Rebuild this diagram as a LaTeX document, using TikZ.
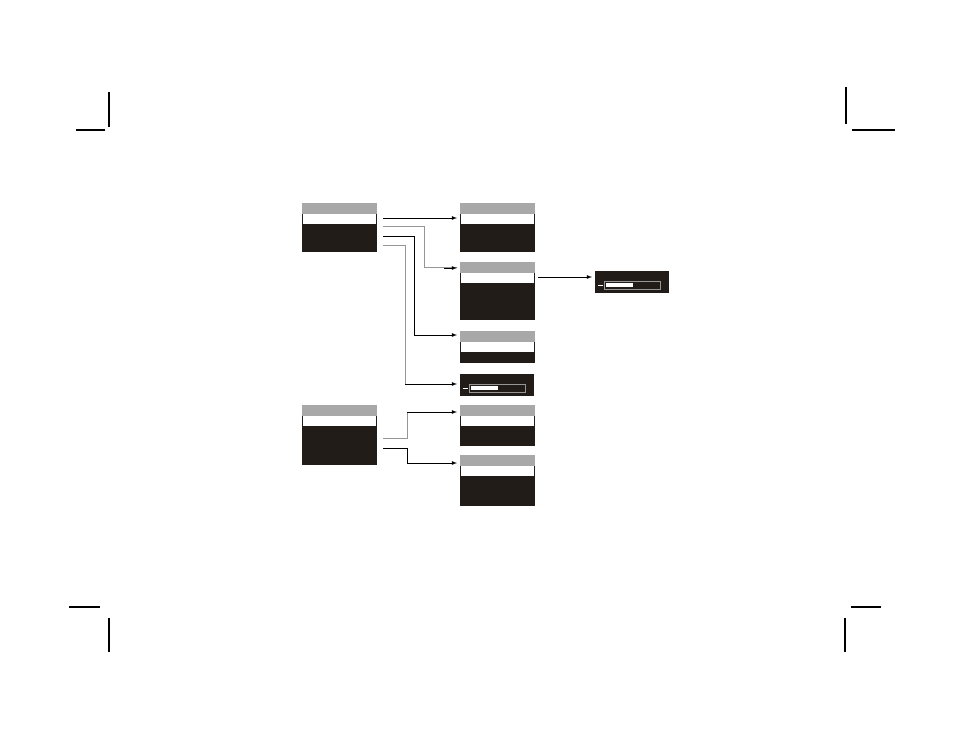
\documentclass[tikz,border=0pt]{standalone}
\usetikzlibrary{calc}
\definecolor{lcdblack}{RGB}{34,28,25}
\definecolor{headgray}{RGB}{168,168,168}
\definecolor{linegray}{RGB}{150,150,150}
\tikzset{
  screenbox/.style={draw=none,fill=lcdblack,rectangle,inner sep=0pt,anchor=north west,minimum width=75pt},
  link/.style={->,>=latex,line width=0.8pt,black},
  greyline/.style={line width=1pt,linegray},
  cropmark/.style={line width=1.2pt,black},
}
% menu screen: name, x, top, height
\newcommand{\menuscreen}[4]{%
  \node[screenbox,minimum height=#4] (#1) at (#2,#3) {};
  \fill[headgray] (#1.north west) rectangle ++(75,11);
  \fill[white] ($(#1.north west)+(1,11)$) rectangle ++(73,10);
}
% progress screen: name, x, top
\newcommand{\progscreen}[3]{%
  \node[screenbox,minimum height=22pt,minimum width=74pt] (#1) at (#2,#3) {};
  \draw[linegray,line width=0.9pt] ($(#1.north west)+(9,10)$) rectangle ++(56,8);
  \fill[white] ($(#1.north west)+(11,12)$) rectangle ++(27,4);
  \draw[white,line width=0.9pt] ($(#1.north west)+(3,14)$) -- ++(5,0);
}
\begin{document}
\begin{tikzpicture}[x=1pt,y=-1pt]
\useasboundingbox (0,0) rectangle (954,738);
% crop marks
\draw[cropmark] (76,130) -- (105,130);
\draw[cropmark,line width=1.6pt] (109,92) -- (109,127);
\draw[cropmark] (852,130) -- (895,130);
\draw[cropmark,line width=1.6pt] (846,87) -- (846,124);
\draw[cropmark] (69,607) -- (100,607);
\draw[cropmark,line width=1.6pt] (109,618) -- (109,652);
\draw[cropmark] (851,607) -- (881,607);
\draw[cropmark,line width=1.6pt] (845,618) -- (845,652);
% screens
\menuscreen{A}{302}{203}{49}
\menuscreen{B1}{460}{203}{49}
\menuscreen{B2}{460}{262}{58}
\menuscreen{B3}{460}{331}{32}
\progscreen{B4}{460}{374}
\menuscreen{C}{302}{405}{60}
\menuscreen{D1}{460}{405}{41}
\menuscreen{D2}{460}{455}{51}
\progscreen{E}{595}{271}
% connector ends
\coordinate (a1) at ($(A.north east)+(6,15)$);
\coordinate (a2) at ($(A.north east)+(6,24)$);
\coordinate (a3) at ($(A.north east)+(6,33)$);
\coordinate (a4) at ($(A.north east)+(6,43)$);
\coordinate (c1) at ($(C.north east)+(6,33)$);
\coordinate (c2) at ($(C.north east)+(6,43)$);
\coordinate (t1) at ($(B1.north west)+(-3,15)$);
\coordinate (t2) at ($(B2.north west)+(-3,6)$);
\coordinate (t3) at ($(B3.north west)+(-3,4)$);
\coordinate (t4) at ($(B4.north west)+(-3,10)$);
\coordinate (t5) at ($(D1.north west)+(-3,7)$);
\coordinate (t6) at ($(D2.north west)+(-3,8)$);
\coordinate (b2) at ($(B2.north east)+(3,15)$);
\coordinate (te) at ($(E.north west)+(-3,6)$);
% bends of the grey lines
\coordinate (k2) at ($(a2)+(41,0)$);
\coordinate (k4) at ($(a4)+(22,0)$);
\coordinate (k5) at ($(c1)+(24,0)$);
% connectors
\draw[link] (a1) -- (t1);
\draw[greyline] (a2) -- (k2) |- (t2);
\draw[link,shorten <=20pt] (k2 |- t2) -- (t2);
\draw[link] (a3) -- ++(31,0) |- (t3);
\draw[greyline] (a4) -- (k4) -- (k4 |- t4);
\draw[link] (k4 |- t4) -- (t4);
\draw[greyline] (c1) -- (k5) -- (k5 |- t5);
\draw[link] (k5 |- t5) -- (t5);
\draw[link] (c2) -- ++(24,0) |- (t6);
\draw[link] (b2) -- (te);
\end{tikzpicture}
\end{document}
